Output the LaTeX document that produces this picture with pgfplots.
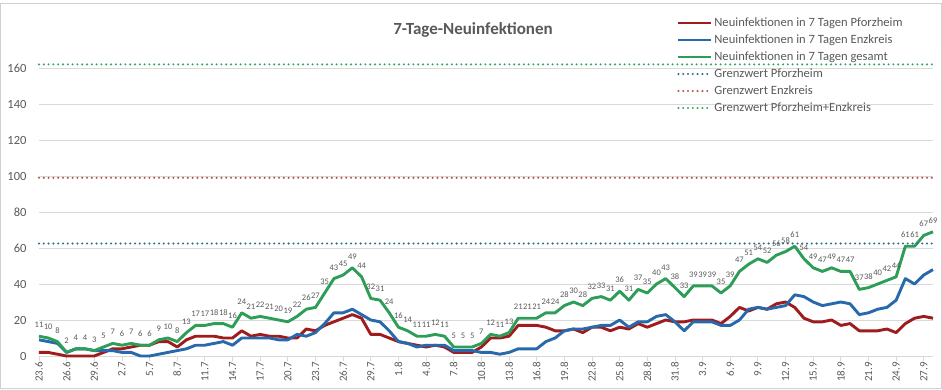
\documentclass[border=0pt]{standalone}
\usepackage{pgfplots}
\pgfplotsset{compat=1.18}
\usepackage{pgfplotstable}
\usepackage{fontspec}
\setmainfont{Carlito}
\definecolor{cred}{HTML}{9E1B1E}
\definecolor{cblue}{HTML}{2769AB}
\definecolor{cgreen}{HTML}{2D9D58}
\definecolor{dblue}{HTML}{2F6A8C}
\definecolor{dred}{HTML}{B0554C}
\definecolor{dgreen}{HTML}{3BA767}
\definecolor{gridgray}{HTML}{D9D9D9}
\definecolor{tickgray}{HTML}{595959}
\definecolor{framegray}{HTML}{D0D0D0}
\pgfplotstableread{
i red blue green
0 2 9 11
1 2 8 10
2 1 7 8
3 0 2 2
4 0 4 4
5 0 4 4
6 0 3 3
7 2 3 5
8 4 3 7
9 4 2 6
10 5 2 7
11 6 0 6
12 6 0 6
13 8 1 9
14 8 2 10
15 5 3 8
16 9 4 13
17 11 6 17
18 11 6 17
19 11 7 18
20 10 8 18
21 10 6 16
22 14 10 24
23 11 10 21
24 12 10 22
25 11 10 21
26 11 9 20
27 10 9 19
28 10 12 22
29 15 11 26
30 14 13 27
31 17 18 35
32 19 24 43
33 21 24 45
34 23 26 49
35 21 23 44
36 12 20 32
37 12 19 31
38 10 14 24
39 8 8 16
40 7 7 14
41 6 5 11
42 5 6 11
43 6 6 12
44 5 6 11
45 2 3 5
46 2 3 5
47 2 3 5
48 5 2 7
49 10 2 12
50 10 1 11
51 11 2 13
52 17 4 21
53 17 4 21
54 17 4 21
55 16 8 24
56 14 10 24
57 14 14 28
58 15 15 30
59 13 15 28
60 16 16 32
61 16 17 33
62 14 17 31
63 16 20 36
64 15 16 31
65 18 19 37
66 16 19 35
67 18 22 40
68 20 23 43
69 19 19 38
70 19 14 33
71 20 19 39
72 20 19 39
73 20 19 39
74 18 17 35
75 22 17 39
76 27 20 47
77 25 26 51
78 27 27 54
79 26 26 52
80 29 27 56
81 30 28 58
82 27 34 61
83 21 33 54
84 19 30 49
85 19 28 47
86 20 29 49
87 17 30 47
88 18 29 47
89 14 23 37
90 14 24 38
91 14 26 40
92 15 27 42
93 13 31 44
94 18 43 61
95 21 40 61
96 22 45 67
97 21 48 69
}\data
\pgfplotstableread{
x y
0 62.5
97 62.5
}\gpf
\pgfplotstableread{
x y
0 99
97 99
}\genz
\pgfplotstableread{
x y
0 162
97 162
}\gall
\begin{document}
\begin{tikzpicture}
\path[use as bounding box] (-39pt,-33pt) rectangle (903pt,356pt);
\draw[framegray, line width=0.8pt] (-38.6pt,-32.6pt) rectangle (902.6pt,353pt);
\begin{axis}[
  at={(0,0)}, anchor=south west,
  scale only axis, width=894pt, height=315pt,
  xmin=0, xmax=97, ymin=0, ymax=175,
  axis x line*=bottom, axis y line*=left,
  x axis line style={draw=gridgray, line width=0.8pt},
  y axis line style={draw=none},
  ytick={0,20,...,160},
  ymajorgrids, grid style={gridgray, line width=0.8pt},
  ytick style={draw=none},
  xtick={0,3,...,96},
  xticklabels={23.6,26.6,29.6,2.7,5.7,8.7,11.7,14.7,17.7,20.7,23.7,26.7,29.7,1.8,4.8,7.8,10.8,13.8,16.8,19.8,22.8,25.8,28.8,31.8,3.9,6.9,9.9,12.9,15.9,18.9,21.9,24.9,27.9},
  xtick style={draw=gridgray, line width=0.8pt},
  tick align=outside, major tick length=5pt,
  /pgf/number format/assume math mode=true,
  yticklabel style={font=\fontsize{12.5}{14}\selectfont, text=tickgray, xshift=-4pt},
  xticklabel style={font=\fontsize{11}{12}\selectfont, text=tickgray, rotate=90, anchor=east, inner sep=1pt, yshift=0pt},
  legend style={at={(rel axis cs:0.710,1.091)}, anchor=north west, draw=none, fill=none,
    font=\fontsize{12.6}{14}\selectfont, text=tickgray, row sep=0pt,
    nodes={inner sep=1.5pt, text height=10pt, text depth=4pt}},
  legend cell align=left,
  legend image code/.code={\draw[#1] (0pt,0pt) -- (33pt,0pt);},
  clip=false,
]
\addplot[cred, line width=2.9pt, line join=round] table[x=i,y=red]{\data};
\addlegendentry{Neuinfektionen in 7 Tagen Pforzheim}
\addplot[cblue, line width=2.9pt, line join=round] table[x=i,y=blue]{\data};
\addlegendentry{Neuinfektionen in 7 Tagen Enzkreis}
\addplot[cgreen, line width=2.9pt, line join=round,
  nodes near coords,
  every node near coord/.append style={font=\fontsize{8.5}{9}\selectfont, text=tickgray, anchor=south, inner sep=1pt, yshift=6pt}]
  table[x=i,y=green]{\data};
\addlegendentry{Neuinfektionen in 7 Tagen gesamt}
\addplot[dblue, line width=2.3pt, line cap=round, dash pattern=on 0pt off 4.8pt] table{\gpf};
\addlegendentry{Grenzwert Pforzheim}
\addplot[dred, line width=2.3pt, line cap=round, dash pattern=on 0pt off 4.8pt] table{\genz};
\addlegendentry{Grenzwert Enzkreis}
\addplot[dgreen, line width=2.3pt, line cap=round, dash pattern=on 0pt off 4.8pt] table{\gall};
\addlegendentry{Grenzwert Pforzheim+Enzkreis}
\node[font=\bfseries\fontsize{17}{18}\selectfont, text=tickgray] at (rel axis cs:0.4855,1.035) {7-Tage-Neuinfektionen};
\end{axis}
\end{tikzpicture}
\end{document}
